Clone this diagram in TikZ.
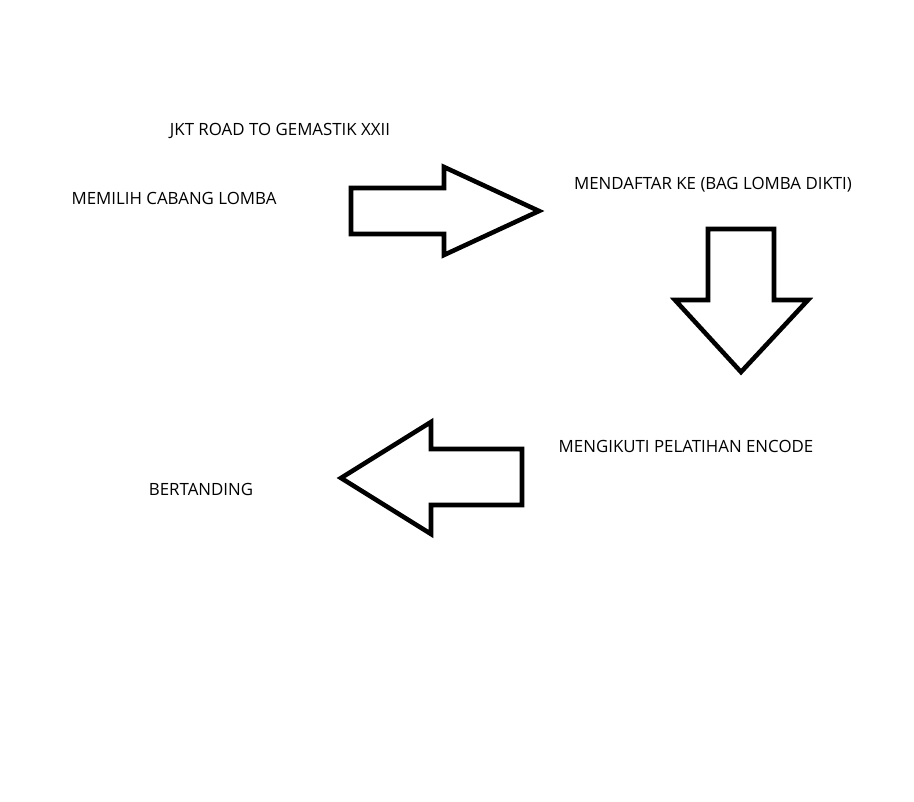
\documentclass[tikz,border=0pt]{standalone}
\usepackage{fontspec}
\setmainfont{Open Sans}
\tikzset{
    label/.style={font=\fontsize{9.6}{11}\selectfont, inner sep=0pt},
    bigarrow/.style={line width=2.6pt, black, line join=miter, fill=white}
}
\begin{document}
\begin{tikzpicture}[x=0.02cm, y=-0.02cm]
                \useasboundingbox (0,0) rectangle (914,802);
                \node[label] (judul) at (280,131) {JKT ROAD TO GEMASTIK XXII};
                \node[label] (pilih) at (174,198) {MEMILIH CABANG LOMBA};
                \node[label] (daftar) at (713,185) {MENDAFTAR KE (BAG LOMBA DIKTI)};
                \node[label] (latih) at (686,446) {MENGIKUTI PELATIHAN ENCODE};
                \node[label] (tanding) at (201,489) {BERTANDING};
                \draw[bigarrow] (351,188) -- (444,188) -- (444,167) -- (539,211) -- (444,255) -- (444,234) -- (351,234) -- cycle;
                \draw[bigarrow] (708,229) -- (774,229) -- (774,300) -- (808,300) -- (741,372) -- (675,300) -- (708,300) -- cycle;
                \draw[bigarrow] (522,449) -- (431,449) -- (431,422) -- (341,478) -- (431,534) -- (431,505) -- (522,505) -- cycle;
            \end{tikzpicture}
\end{document}
